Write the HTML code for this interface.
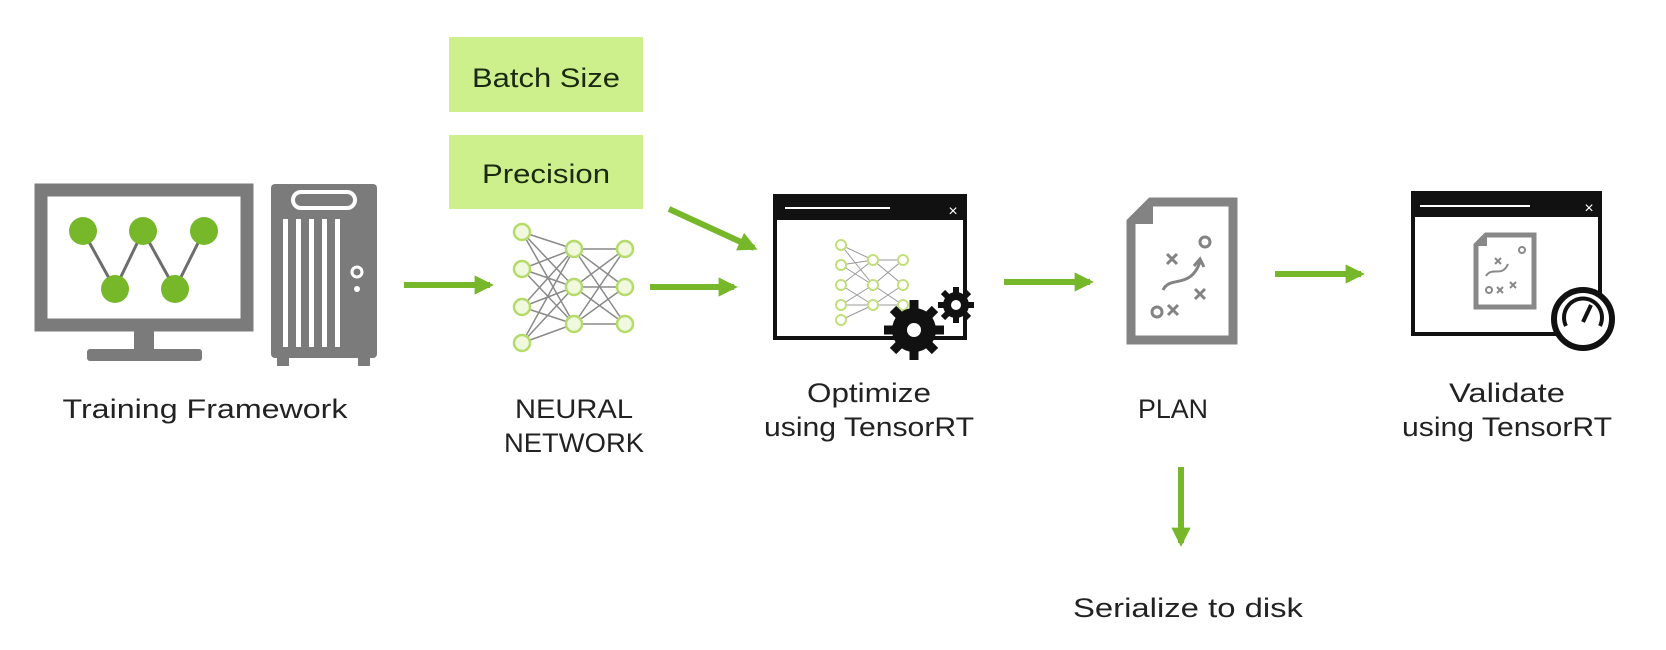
<!DOCTYPE html>
<html><head><meta charset="utf-8"><style>
html,body{margin:0;padding:0;background:#fff;}
svg{display:block;}
text{font-family:"Liberation Sans","DejaVu Sans",sans-serif;fill:#222;}
</style></head><body>
<svg width="1666" height="650" viewBox="0 0 1666 650" xmlns="http://www.w3.org/2000/svg">
<defs>
<marker id="ah" viewBox="0 0 10 10" refX="8" refY="5" markerWidth="3.2" markerHeight="3.2" orient="auto">
<path d="M0,0 L10,5 L0,10 z" fill="#76b82a"/></marker>
</defs>
<!-- monitor -->
<rect x="41" y="190" width="206" height="135" fill="none" stroke="#7b7b7b" stroke-width="13"/>
<rect x="134" y="331" width="20" height="22" fill="#7b7b7b"/>
<rect x="87" y="349" width="115" height="12" rx="3" fill="#7b7b7b"/>
<polyline points="83,231 115,289 143,231 175,289 204,231" fill="none" stroke="#6d6d6d" stroke-width="3"/>
<g fill="#76b82a"><circle cx="83" cy="231" r="14"/><circle cx="143" cy="231" r="14"/><circle cx="204" cy="231" r="14"/><circle cx="115" cy="289" r="14"/><circle cx="175" cy="289" r="14"/></g>
<!-- tower -->
<rect x="271" y="184" width="106" height="174" rx="4" fill="#7b7b7b"/>
<rect x="277" y="358" width="12" height="8" fill="#7b7b7b"/><rect x="358" y="358" width="12" height="8" fill="#7b7b7b"/>
<rect x="293" y="192" width="62" height="16" rx="8" fill="none" stroke="#fff" stroke-width="4"/>
<g fill="#fff"><rect x="283" y="219" width="5" height="128"/><rect x="296" y="219" width="5" height="128"/><rect x="309" y="219" width="5" height="128"/><rect x="322" y="219" width="5" height="128"/><rect x="335" y="219" width="5" height="128"/></g>
<circle cx="357" cy="272" r="5" fill="none" stroke="#fff" stroke-width="3"/><circle cx="357" cy="289" r="3" fill="#fff"/>
<!-- arrows -->
<g stroke="#76b82a" stroke-width="6" marker-end="url(#ah)">
<line x1="404" y1="285" x2="490" y2="285"/>
<line x1="650" y1="287" x2="734" y2="287"/>
<line x1="669" y1="209" x2="754" y2="248"/>
<line x1="1004" y1="282" x2="1090" y2="282"/>
<line x1="1275" y1="274" x2="1361" y2="274"/>
<line x1="1181" y1="467" x2="1181" y2="543"/>
</g>
<!-- boxes -->
<rect x="449" y="37" width="194" height="75" fill="#cdf08c"/>
<rect x="449" y="135" width="194" height="74" fill="#cdf08c"/>
<text x="546" y="87" font-size="27" text-anchor="middle" textLength="148" lengthAdjust="spacingAndGlyphs" style="fill:#1a2a10">Batch Size</text>
<text x="546" y="183" font-size="27" text-anchor="middle" textLength="128" lengthAdjust="spacingAndGlyphs" style="fill:#1a2a10">Precision</text>
<!-- neural net -->
<g stroke="#8a8a8a" stroke-width="1.5">
<path d="M522,232L574,249M522,232L574,287M522,232L574,324M522,269L574,249M522,269L574,287M522,269L574,324M522,307L574,249M522,307L574,287M522,307L574,324M522,343L574,249M522,343L574,287M522,343L574,324M574,249L625,249M574,249L625,287M574,249L625,324M574,287L625,249M574,287L625,287M574,287L625,324M574,324L625,249M574,324L625,287M574,324L625,324"/>
</g>
<g fill="#f0f8de" stroke="#b5dc6a" stroke-width="2.5">
<circle cx="522" cy="232" r="8"/><circle cx="522" cy="269" r="8"/><circle cx="522" cy="307" r="8"/><circle cx="522" cy="343" r="8"/>
<circle cx="574" cy="249" r="8"/><circle cx="574" cy="287" r="8"/><circle cx="574" cy="324" r="8"/>
<circle cx="625" cy="249" r="8"/><circle cx="625" cy="287" r="8"/><circle cx="625" cy="324" r="8"/>
</g>
<!-- optimize window -->
<rect x="775" y="196" width="190" height="142" fill="#fff" stroke="#111" stroke-width="4"/>
<rect x="775" y="196" width="190" height="24" fill="#111"/>
<line x1="785" y1="208" x2="890" y2="208" stroke="#fff" stroke-width="2"/>
<text x="953" y="216" font-size="16" text-anchor="middle" style="fill:#fff">×</text>
<g stroke="#999" stroke-width="1"><path d="M841,245L873,260M841,245L873,285M841,265L873,260M841,265L873,285M841,285L873,260M841,285L873,305M841,305L873,285M841,305L873,305M841,320L873,305M873,260L903,260M873,260L903,285M873,285L903,260M873,285L903,305M873,305L903,285M873,305L903,305"/></g>
<g fill="#fff" stroke="#c2e07a" stroke-width="2"><circle cx="841" cy="245" r="5"/><circle cx="841" cy="265" r="5"/><circle cx="841" cy="285" r="5"/><circle cx="841" cy="305" r="5"/><circle cx="841" cy="320" r="5"/><circle cx="873" cy="260" r="5"/><circle cx="873" cy="285" r="5"/><circle cx="873" cy="305" r="5"/><circle cx="903" cy="260" r="5"/><circle cx="903" cy="285" r="5"/><circle cx="903" cy="305" r="5"/></g>
<g fill="#111">
<circle cx="914" cy="330" r="22"/>
<g stroke="#111" stroke-width="9"><line x1="914" y1="300" x2="914" y2="360"/><line x1="884" y1="330" x2="944" y2="330"/><line x1="893" y1="309" x2="935" y2="351"/><line x1="893" y1="351" x2="935" y2="309"/></g>
<circle cx="914" cy="330" r="7" fill="#fff"/>
<circle cx="956" cy="305" r="13"/>
<g stroke="#111" stroke-width="6"><line x1="956" y1="287" x2="956" y2="323"/><line x1="938" y1="305" x2="974" y2="305"/><line x1="943" y1="292" x2="969" y2="318"/><line x1="943" y1="318" x2="969" y2="292"/></g>
<circle cx="956" cy="305" r="5" fill="#fff"/>
</g>
<!-- plan doc -->
<path d="M1151,202 L1233,202 L1233,340 L1131,340 L1131,222 Z" fill="#fff" stroke="#838383" stroke-width="9"/>
<path d="M1131,224 L1153,224 L1153,202 Z" fill="#838383"/>
<g fill="none" stroke="#838383" stroke-width="3">
<circle cx="1205" cy="242" r="5"/><circle cx="1157" cy="312" r="5"/>
<path d="M1167,254l10,10m0-10l-10,10M1168,305l10,10m0-10l-10,10M1195,289l10,10m0-10l-10,10"/>
<path d="M1163,290 C1170,275 1190,290 1200,262"/><path d="M1194,266l6,-7l4,8"/>
</g>
<!-- validate window -->
<rect x="1413" y="193" width="187" height="141" fill="#fff" stroke="#111" stroke-width="4"/>
<rect x="1413" y="193" width="187" height="24" fill="#111"/>
<line x1="1420" y1="206" x2="1530" y2="206" stroke="#fff" stroke-width="2"/>
<text x="1589" y="213" font-size="16" text-anchor="middle" style="fill:#fff">×</text>
<path d="M1486,235 L1534,235 L1534,307 L1476,307 L1476,245 Z" fill="#fff" stroke="#888" stroke-width="5"/>
<path d="M1476,246 L1487,246 L1487,235 Z" fill="#888"/>
<g fill="none" stroke="#888" stroke-width="2"><path d="M1495,258l6,6m0-6l-6,6M1497,287l6,6m0-6l-6,6M1510,282l6,6m0-6l-6,6M1486,276c6,-10 16,2 22,-12"/><circle cx="1522" cy="250" r="3"/><circle cx="1489" cy="290" r="3"/></g>
<circle cx="1583" cy="319" r="29" fill="#fff" stroke="#111" stroke-width="6"/>
<path d="M1566,326 A19,19 0 1 1 1600,326" fill="none" stroke="#111" stroke-width="4"/>
<line x1="1583" y1="322" x2="1591" y2="305" stroke="#111" stroke-width="4"/>
<!-- labels -->
<text x="205" y="418" font-size="27" text-anchor="middle" textLength="285" lengthAdjust="spacingAndGlyphs">Training Framework</text>
<text x="574" y="418" font-size="27" text-anchor="middle" textLength="118" lengthAdjust="spacingAndGlyphs">NEURAL</text>
<text x="574" y="452" font-size="27" text-anchor="middle" textLength="140" lengthAdjust="spacingAndGlyphs">NETWORK</text>
<text x="869" y="402" font-size="27" text-anchor="middle" textLength="124" lengthAdjust="spacingAndGlyphs">Optimize</text>
<text x="869" y="436" font-size="27" text-anchor="middle" textLength="210" lengthAdjust="spacingAndGlyphs">using TensorRT</text>
<text x="1173" y="418" font-size="27" text-anchor="middle" textLength="70" lengthAdjust="spacingAndGlyphs">PLAN</text>
<text x="1507" y="402" font-size="27" text-anchor="middle" textLength="116" lengthAdjust="spacingAndGlyphs">Validate</text>
<text x="1507" y="436" font-size="27" text-anchor="middle" textLength="210" lengthAdjust="spacingAndGlyphs">using TensorRT</text>
<text x="1188" y="617" font-size="27" text-anchor="middle" textLength="230" lengthAdjust="spacingAndGlyphs">Serialize to disk</text>
</svg>
</body></html>
